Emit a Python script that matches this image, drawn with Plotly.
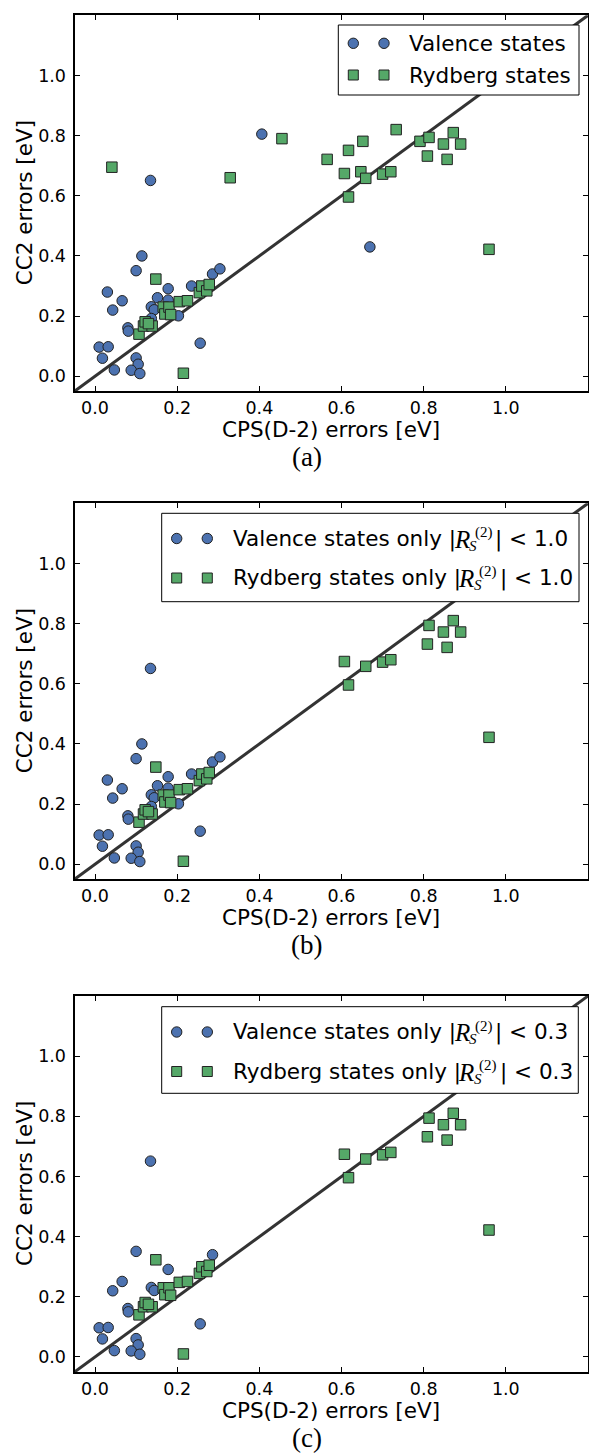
import plotly.graph_objects as go

W, H = 589, 1456
X_RANGE = [-0.05, 1.2]
Y_RANGE = [-0.05, 1.2]
tick_vals = [0.0, 0.2, 0.4, 0.6, 0.8, 1.0]
tick_text = ["0.0", "0.2", "0.4", "0.6", "0.8", "1.0"]
x_title = "CPS(D-2) errors [eV]"
y_title = "CC2 errors [eV]"
panel_labels = ["(a)", "(b)", "(c)"]

# ---------------- data ----------------
# Panel (a): all states
val_a_x = [0.114, 0.100, 0.030, 0.066, 0.043, 0.178, 0.152, 0.178, 0.137, 0.144,
           0.137, 0.080, 0.081, 0.203, 0.235, 0.286, 0.304, 0.256, 0.010, 0.032,
           0.018, 0.047, 0.100, 0.105, 0.088, 0.109, 0.135, 0.406, 0.669]
val_a_y = [0.400, 0.351, 0.280, 0.251, 0.220, 0.291, 0.261, 0.253, 0.231, 0.221,
           0.192, 0.161, 0.150, 0.201, 0.300, 0.340, 0.357, 0.110, 0.097, 0.098,
           0.060, 0.021, 0.061, 0.040, 0.020, 0.009, 0.651, 0.805, 0.430]
ryd_a_x = [0.107, 0.118, 0.122, 0.139, 0.130, 0.148, 0.166, 0.170, 0.180, 0.184,
           0.205, 0.225, 0.254, 0.260, 0.272, 0.278, 0.215,
           0.041, 0.329, 0.455, 0.565, 0.607, 0.617, 0.617, 0.647, 0.652, 0.659,
           0.700, 0.720, 0.733, 0.791, 0.813, 0.809, 0.848, 0.857, 0.872, 0.890, 0.959]
ryd_a_y = [0.140, 0.167, 0.181, 0.167, 0.175, 0.323, 0.230, 0.207, 0.230, 0.205,
           0.248, 0.251, 0.278, 0.300, 0.284, 0.305, 0.010,
           0.695, 0.660, 0.790, 0.721, 0.674, 0.751, 0.596, 0.680, 0.781, 0.658,
           0.672, 0.680, 0.820, 0.781, 0.794, 0.732, 0.772, 0.721, 0.810, 0.772, 0.422]

# Panel (b): |R_S^(2)| < 1.0
val_b_x = [0.114, 0.100, 0.030, 0.066, 0.043, 0.178, 0.152, 0.178, 0.137, 0.144,
           0.137, 0.080, 0.081, 0.203, 0.235, 0.286, 0.304, 0.256, 0.010, 0.032,
           0.018, 0.047, 0.100, 0.105, 0.088, 0.109, 0.135]
val_b_y = [0.400, 0.351, 0.280, 0.251, 0.220, 0.291, 0.261, 0.253, 0.231, 0.221,
           0.192, 0.161, 0.150, 0.201, 0.300, 0.340, 0.357, 0.110, 0.097, 0.098,
           0.060, 0.021, 0.061, 0.040, 0.020, 0.009, 0.651]
ryd_b_x = [0.107, 0.118, 0.122, 0.139, 0.130, 0.148, 0.166, 0.170, 0.180, 0.184,
           0.205, 0.225, 0.254, 0.260, 0.272, 0.278, 0.215,
           0.607, 0.617, 0.659, 0.700, 0.720, 0.813, 0.809, 0.848, 0.857, 0.872, 0.890, 0.959]
ryd_b_y = [0.140, 0.167, 0.181, 0.167, 0.175, 0.323, 0.230, 0.207, 0.230, 0.205,
           0.248, 0.251, 0.278, 0.300, 0.284, 0.305, 0.010,
           0.674, 0.596, 0.658, 0.672, 0.680, 0.794, 0.732, 0.772, 0.721, 0.810, 0.772, 0.422]

# Panel (c): |R_S^(2)| < 0.3
val_c_x = [0.100, 0.066, 0.043, 0.178, 0.137, 0.144, 0.080, 0.081, 0.286, 0.256,
           0.010, 0.032, 0.018, 0.047, 0.100, 0.105, 0.088, 0.109, 0.135]
val_c_y = [0.351, 0.251, 0.220, 0.291, 0.231, 0.221, 0.161, 0.150, 0.340, 0.110,
           0.097, 0.098, 0.060, 0.021, 0.061, 0.040, 0.020, 0.009, 0.651]
ryd_c_x = [0.107, 0.118, 0.122, 0.139, 0.130, 0.148, 0.166, 0.170, 0.180, 0.184,
           0.205, 0.225, 0.254, 0.260, 0.272, 0.278, 0.215,
           0.607, 0.617, 0.659, 0.700, 0.720, 0.813, 0.809, 0.848, 0.857, 0.872, 0.890, 0.959]
ryd_c_y = [0.140, 0.167, 0.181, 0.167, 0.175, 0.323, 0.230, 0.207, 0.230, 0.205,
           0.248, 0.251, 0.278, 0.300, 0.284, 0.305, 0.010,
           0.674, 0.596, 0.658, 0.672, 0.680, 0.794, 0.732, 0.772, 0.721, 0.810, 0.772, 0.422]

panels = [
    (val_a_x, val_a_y, ryd_a_x, ryd_a_y),
    (val_b_x, val_b_y, ryd_b_x, ryd_b_y),
    (val_c_x, val_c_y, ryd_c_x, ryd_c_y),
]

# ---------------- styling / geometry (pixels) ----------------
BLUE = "#4C72B0"
GREEN = "#55A868"
EDGE = "#222222"
SANS = "DejaVu Sans"
SERIF = "Liberation Serif"
TICK_SIZE = 17.5
TEXT_SIZE = 21.5

PLOT_L, PLOT_R = 74.5, 588.0
panel_tops = [15.3, 503.3, 996.0]
panel_bots = [391.3, 879.3, 1372.0]
xtitle_dy = 38.0     # below the bottom axis
caption_dy = 66.0
caption_x = 306.5
ytitle_x = 24.0


def fx(px):
    return px / W


def fy(py):
    return 1 - py / H


fig = go.Figure()
layout = dict(
    width=W, height=H,
    margin=dict(l=0, r=0, t=0, b=0),
    paper_bgcolor="white", plot_bgcolor="white",
    showlegend=False,
)
annotations = []
shapes = []

for i, (vx, vy, rx, ry) in enumerate(panels):
    n = i + 1
    xa = "x" if n == 1 else f"x{n}"
    ya = "y" if n == 1 else f"y{n}"
    # diagonal y = x across the whole axis range
    fig.add_trace(go.Scatter(x=X_RANGE, y=X_RANGE, mode="lines",
                             line=dict(color="#333333", width=3),
                             xaxis=xa, yaxis=ya, hoverinfo="skip"))
    fig.add_trace(go.Scatter(x=vx, y=vy, mode="markers",
                             marker=dict(symbol="circle", size=10.5, color=BLUE,
                                         line=dict(color=EDGE, width=1)),
                             xaxis=xa, yaxis=ya))
    fig.add_trace(go.Scatter(x=rx, y=ry, mode="markers",
                             marker=dict(symbol="square", size=10.5, color=GREEN,
                                         line=dict(color=EDGE, width=1)),
                             xaxis=xa, yaxis=ya))
    axis_common = dict(
        showline=True, linewidth=2, linecolor="black", mirror="allticks",
        ticks="inside", ticklen=5, tickwidth=1, tickcolor="black",
        showgrid=False, zeroline=False,
        tickvals=tick_vals, ticktext=tick_text,
        tickfont=dict(family=SANS, size=TICK_SIZE, color="black"),
    )
    layout["xaxis" if n == 1 else f"xaxis{n}"] = dict(
        axis_common, domain=[fx(PLOT_L), fx(PLOT_R)], anchor=ya,
        range=X_RANGE, ticklabelstandoff=0)
    layout["yaxis" if n == 1 else f"yaxis{n}"] = dict(
        axis_common, domain=[fy(panel_bots[i]), fy(panel_tops[i])], anchor=xa,
        range=Y_RANGE, ticklabelstandoff=3)

    top, bot = panel_tops[i], panel_bots[i]
    annotations.append(dict(text=x_title, xref="paper", yref="paper",
                            x=fx((PLOT_L + PLOT_R) / 2), y=fy(bot + xtitle_dy),
                            xanchor="center", yanchor="middle", showarrow=False,
                            font=dict(family=SANS, size=TEXT_SIZE, color="black")))
    annotations.append(dict(text=y_title, xref="paper", yref="paper", textangle=-90,
                            x=fx(ytitle_x), y=fy((top + bot) / 2),
                            xanchor="center", yanchor="middle", showarrow=False,
                            font=dict(family=SANS, size=TEXT_SIZE, color="black")))
    annotations.append(dict(text=panel_labels[i], xref="paper", yref="paper",
                            x=fx(caption_x), y=fy(bot + caption_dy),
                            xanchor="center", yanchor="middle", showarrow=False,
                            font=dict(family=SERIF, size=27, color="black")))

# ---------------- legends (matplotlib style, two markers per entry) ----------------
legend_boxes = [(338.3, 25.0, 579.0, 95.0),
                (161.7, 513.3, 579.0, 601.7),
                (161.7, 1006.7, 578.3, 1093.3)]
legend_rows = [(43.3, 75.0), (538.5, 578.0), (1032.0, 1071.5)]
legend_mx = [(353.3, 384.0), (176.7, 207.3), (176.7, 207.3)]
legend_tx = [407.7, 231.7, 231.7]
legend_a_labels = ["Valence states", "Rydberg states"]
legend_sel_prefix = ["Valence states only |", "Rydberg states only |"]
legend_thresholds = [None, "1.0", "0.3"]
# x position (px) where the italic R starts for each row of panels (b)/(c)
math_r_left = [453.0, 457.5]

for i in range(3):
    x0, y0, x1, y1 = legend_boxes[i]
    shapes.append(dict(type="rect", xref="paper", yref="paper",
                       x0=fx(x0), x1=fx(x1), y0=fy(y1), y1=fy(y0),
                       line=dict(color="black", width=1), fillcolor="white",
                       layer="above"))
    for r, (sym, col) in enumerate([("circle", BLUE), ("rect", GREEN)]):
        cy = legend_rows[i][r]
        for cx in legend_mx[i]:
            h = 5.2 if sym == "circle" else 5.0
            shapes.append(dict(type=sym, xref="paper", yref="paper",
                               x0=fx(cx - h), x1=fx(cx + h), y0=fy(cy + h), y1=fy(cy - h),
                               line=dict(color=EDGE, width=1), fillcolor=col,
                               layer="above"))
        common = dict(xref="paper", yref="paper", xanchor="left", yanchor="middle",
                      showarrow=False, borderpad=0)
        if legend_thresholds[i] is None:
            annotations.append(dict(common, text=legend_a_labels[r],
                                    x=fx(legend_tx[i]), y=fy(cy),
                                    font=dict(family=SANS, size=TEXT_SIZE, color="black")))
        else:
            rl = math_r_left[r]
            annotations.append(dict(common, text=legend_sel_prefix[r],
                                    x=fx(legend_tx[i]), y=fy(cy),
                                    font=dict(family=SANS, size=TEXT_SIZE, color="black")))
            annotations.append(dict(common, text="<i>R</i>",
                                    x=fx(rl), y=fy(cy + 0.5),
                                    font=dict(family=SERIF, size=25, color="black")))
            annotations.append(dict(common, text="<i>S</i>",
                                    x=fx(rl + 15), y=fy(cy + 7),
                                    font=dict(family=SERIF, size=15, color="black")))
            annotations.append(dict(common, text="(2)",
                                    x=fx(rl + 20.5), y=fy(cy - 6),
                                    font=dict(family=SERIF, size=15, color="black")))
            annotations.append(dict(common, text="| < " + legend_thresholds[i],
                                    x=fx(rl + 41), y=fy(cy),
                                    font=dict(family=SANS, size=TEXT_SIZE, color="black")))

layout["annotations"] = annotations
layout["shapes"] = shapes
fig.update_layout(**layout)
fig.write_html("out.html")
